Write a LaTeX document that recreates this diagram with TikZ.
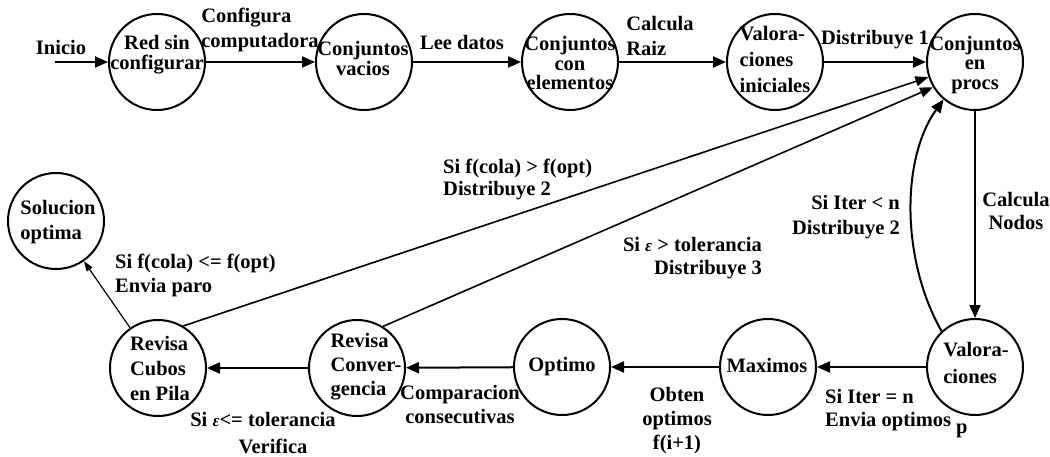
\documentclass[tikz,border=0pt]{standalone}
\usepackage{fontspec}
\setmainfont{Liberation Serif}
\usetikzlibrary{arrows.meta}
\begin{document}
\begin{tikzpicture}[x=1pt,y=-1pt,
  st/.style={draw,circle,line width=2pt,minimum size=96pt,inner sep=0pt},
  txt/.style={inner sep=0pt,font=\bfseries\fontsize{20.5}{#1}\selectfont},
  txt/.default=24,
  arr/.style={line width=2pt,-{Triangle[length=13pt,width=11pt]}},
  darr/.style={line width=1.6pt,-{Triangle[length=13pt,width=10pt]}},
  tarr/.style={line width=1.2pt,-{Triangle[length=10pt,width=7pt]}}]
\useasboundingbox (0,0) rectangle (1050,457);

% states, top row
\node[st] (red) at (157,62) {};
\node[txt=20,align=center] (red-t) at (157,55) {Red sin\\configurar};
\node[st] (vac) at (364,62) {};
\node[txt=20,align=center] (vac-t) at (363,58) {Conjuntos\\vacios};
\node[st] (cel) at (570,62) {};
\node[txt=19.5,align=center] (cel-t) at (570,63) {Conjuntos\\con\\elementos};
\node[st] (vin) at (775,62) {};
\node[txt=26,align=left] (vin-t) at (775,59) {Valora-\\ciones\\iniciales};
\node[st] (cp) at (975,62) {};
\node[txt=19.5,align=center] (cp-t) at (975,65) {Conjuntos\\en\\procs};

% states, lower part
\node[st] (sol) at (56,221) {};
\node[txt=25,align=left] (sol-t) at (58,222) {Solucion\\optima};
\node[st] (rcp) at (158,368) {};
\node[txt=25,align=left] (rcp-t) at (160,368) {Revisa\\Cubos\\en Pila};
\node[st] (rcv) at (357,368) {};
\node[txt=24,align=left] (rcv-t) at (366,367) {Revisa\\Conver-\\gencia};
\node[st] (opt) at (562,367) {};
\node[txt] (opt-t) at (562,367) {Optimo};
\node[st] (max) at (768,367) {};
\node[txt] (max-t) at (767,365) {Maximos};
\node[st] (val) at (975,367) {};
\node[txt=27,align=left] (val-t) at (976,363) {Valora-\\ciones};

% start
\coordinate (ini) at (55,62);
\node[txt] (ini-l) at (61,47) {Inicio};
\draw[arr] (ini) -- (red);

% top row transitions
\draw[arr] (red) -- (vac);
\node[txt=25,align=left] (l1) at (260,30) {Configura\\computadora};
\draw[arr] (vac) -- (cel);
\node[txt] (l2) at (462,42) {Lee datos};
\draw[arr] (cel) -- (vin);
\node[txt=25,align=left] (l3) at (660,36) {Calcula\\Raiz};
\draw[arr] (vin) -- (cp);
\node[txt] (l4) at (875,40) {Distribuye 1};

% right column
\draw[arr] (cp) -- (val);
\node[txt=23,align=center] (l5) at (1016,211) {Calcula\\Nodos};
\draw[arr] (val.133) .. controls +(-40,-70) and +(-43,60) .. (cp.230);
\node[txt=25,align=right] (l6) at (846,217) {Si Iter < n\\Distribuye 2};

% lower row
\draw[arr] (val) -- (max);
\node[txt=23,align=left,anchor=west] (l7) at (825,414)
  {Si Iter = n\\Envia optimos \raisebox{-7pt}{p}};
\draw[arr] (max) -- (opt);
\node[txt=24,align=center] (l8) at (677,421) {Obten\\optimos\\f(i+1)};
\draw[arr] (opt) -- (rcv);
\node[txt=24,align=center] (l9) at (460,405) {Comparacion\\consecutivas};
\draw[arr] (rcv) -- (rcp);
\node[txt=27,align=center] (l10) at (263,433) {Si {\itshape\fontsize{17}{20}\selectfont ε}<= tolerancia\\\hspace*{20pt}Verifica};

% returns and exit
\draw[darr] (rcp.59) -- (cp.198);
\node[txt=22,align=left,anchor=west] (l11) at (443,179) {Si f(cola) > f(opt)\\Distribuye 2};
\draw[darr] (rcv.58) -- (cp.211);
\node[txt=23,align=right,anchor=east] (l12) at (762,258) {Si {\itshape\fontsize{17}{20}\selectfont ε} > tolerancia\\Distribuye 3};
\draw[tarr] (rcp) -- (sol);
\node[txt=24,align=left,anchor=west] (l13) at (115,275) {Si f(cola) <= f(opt)\\Envia paro};
\end{tikzpicture}
\end{document}
